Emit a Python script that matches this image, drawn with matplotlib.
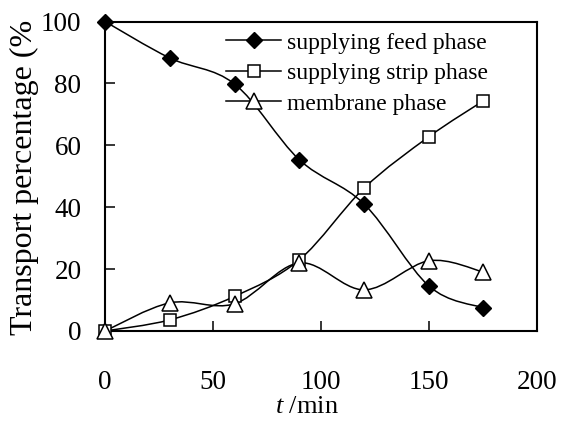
import numpy as np
import matplotlib
matplotlib.use("Agg")
import matplotlib.pyplot as plt
from matplotlib.path import Path
from matplotlib.patches import PathPatch
from matplotlib.lines import Line2D
from matplotlib.transforms import Bbox

plt.rcParams['font.family'] = ['Liberation Serif', 'DejaVu Serif']
plt.rcParams['mathtext.fontset'] = 'custom'
plt.rcParams['mathtext.rm'] = 'Liberation Serif'
plt.rcParams['mathtext.it'] = 'Liberation Serif:italic'

# Sampling times (min) and transport percentages (%)
time_min = [0, 30, 60, 90, 120, 150, 175]
feed_phase = [100, 88.2, 79.8, 55.3, 41.0, 14.5, 7.5]
strip_phase = [0, 3.6, 11.2, 23.0, 46.2, 62.8, 74.3]
membrane_phase = [0, 9.1, 8.8, 22.0, 13.3, 22.7, 19.1]

series_labels = ["supplying feed phase", "supplying strip phase", "membrane phase"]
x_ticks = [0, 50, 100, 150, 200]
y_ticks = [0, 20, 40, 60, 80, 100]


def smooth_path(xs, ys):
    """Bezier path through the points (Catmull-Rom style smoothing)."""
    pts = np.column_stack([xs, ys]).astype(float)
    n = len(pts)
    verts = [pts[0]]
    codes = [Path.MOVETO]
    for i in range(n - 1):
        p0 = pts[i - 1] if i > 0 else pts[i]
        p1 = pts[i]
        p2 = pts[i + 1]
        p3 = pts[i + 2] if i + 2 < n else pts[i + 1]
        c1 = p1 + (p2 - p0) / 6.0
        c2 = p2 - (p3 - p1) / 6.0
        verts += [c1, c2, p2]
        codes += [Path.CURVE4] * 3
    return Path(verts, codes)


W, H = 561, 421
fig = plt.figure(figsize=(W / 100, H / 100), dpi=100)
ax = fig.add_axes([105 / W, 1 - 331 / H, 432 / W, 309.5 / H])

line_w = 1.1
styles = [
    dict(marker='D', ms=8.3, mfc='black', mec='black', mew=1.0),
    dict(marker='s', ms=8.2, mfc='white', mec='black', mew=1.1),
    dict(marker='^', ms=11.5, mfc='white', mec='black', mew=1.1),
]
data = [feed_phase, strip_phase, membrane_phase]

handles = []
for ys, st, lab in zip(data, styles, series_labels):
    patch = PathPatch(smooth_path(time_min, ys), facecolor='none',
                      edgecolor='black', lw=line_w, zorder=2)
    ax.add_patch(patch)
    ax.plot(time_min, ys, ls='none', zorder=3, clip_on=False, **st)
    handles.append(Line2D([], [], color='black', lw=line_w, label=lab, **st))

ax.set_xlim(0, 200)
ax.set_ylim(0, 100)
ax.set_xticks(x_ticks)
ax.set_yticks(y_ticks)
ax.tick_params(axis='both', direction='in', length=7.5, width=1.1,
               labelsize=19.5, top=False, right=False)
ax.tick_params(axis='x', pad=28)
ax.tick_params(axis='y', pad=17)
for sp in ax.spines.values():
    sp.set_linewidth(1.5)

leg = ax.legend(handles=handles, loc='upper left',
                bbox_to_anchor=(226 / W, 1 - 32 / H),
                bbox_transform=fig.transFigure, frameon=False,
                fontsize=17, handlelength=2.35, handletextpad=0.25,
                labelspacing=0.38, borderpad=0, borderaxespad=0)

ylab = fig.text(24 / W, 1 - 335 / H, "Transport percentage (%)", rotation=90,
                ha='center', va='bottom', fontsize=23)
# the label runs past the top of its box and is cut there
ylab.set_clip_box(Bbox.from_extents(0, 0, W, H - 20))
ylab.set_clip_on(True)

fig.text(307 / W, 1 - 413 / H, r"$\mathit{t}$ /min", ha='center',
         va='baseline', fontsize=19)

fig.savefig("out.png", dpi=100)
